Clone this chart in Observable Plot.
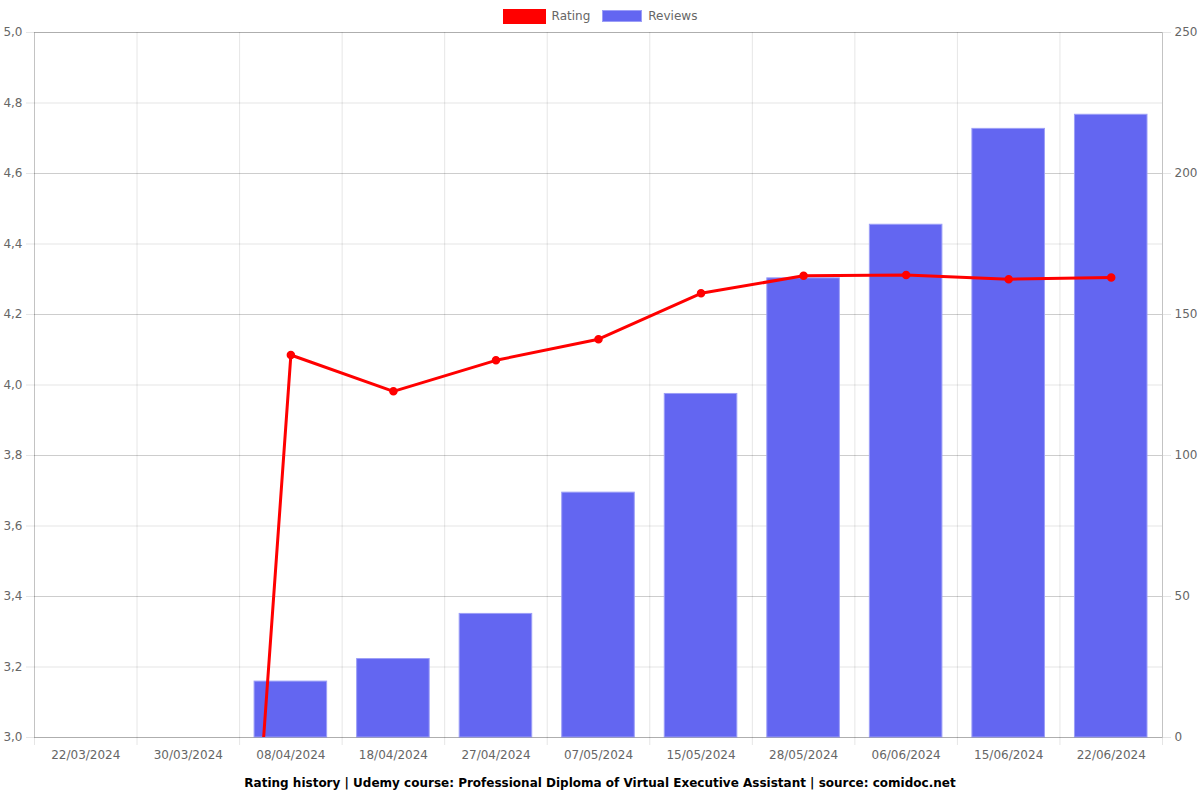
<!DOCTYPE html>
<html>
<head>
<meta charset="utf-8">
<script src="https://cdn.jsdelivr.net/npm/d3@7"></script>
<script src="https://cdn.jsdelivr.net/npm/@observablehq/plot@0.6"></script>
<style>
  html, body { margin: 0; padding: 0; background: #fff; }
  body { width: 1200px; height: 800px; overflow: hidden; font-family: "DejaVu Sans", sans-serif; }
  #legend { height: 24px; display: flex; justify-content: center; align-items: center; font-size: 12px; color: #666; padding-top: 8px; box-sizing: border-box; }
  .item { display: flex; align-items: center; margin: 0 6px; }
  .sw { display: inline-block; margin-right: 6px; box-sizing: border-box; }
  #caption { height: 28px; line-height: 28px; text-align: center; font-size: 12px; font-weight: bold; color: #000; }
  #chart svg { display: block; overflow: visible; }
</style>
</head>
<body>
<div id="legend">
  <div class="item"><span class="sw" style="width:43px;height:15px;background:#ff0000;"></span><span>Rating</span></div>
  <div class="item"><span class="sw" style="width:40px;height:12px;background:#6366f1;border:1px solid #9c9ef7;"></span><span>Reviews</span></div>
</div>
<div id="chart"></div>
<div id="caption">Rating history | Udemy course: Professional Diploma of Virtual Executive Assistant | source: comidoc.net</div>
<script>
const dates = ["22/03/2024","30/03/2024","08/04/2024","18/04/2024","27/04/2024","07/05/2024","15/05/2024","28/05/2024","06/06/2024","15/06/2024","22/06/2024"];
const ratings = [0, 0, 4.085, 3.982, 4.07, 4.13, 4.26, 4.31, 4.312, 4.30, 4.305];
const reviews = [0, 0, 20, 28, 44, 87, 122, 163, 182, 216, 221];
const ratingTicks = [3.0, 3.2, 3.4, 3.6, 3.8, 4.0, 4.2, 4.4, 4.6, 4.8, 5.0];
const reviewTicks = [0, 50, 100, 150, 200, 250];

const yMin = 3, yMax = 5, rMax = 250;
const toY = r => yMin + r * (yMax - yMin) / rMax;
const fromY = y => Math.round((y - yMin) * rMax / (yMax - yMin));

const data = dates.map((d, i) => ({date: d, rating: ratings[i], reviews: reviews[i]}));

const W = 1200, H = 745, ML = 34, MR = 38, MT = 8, MB = 32;
const step = (W - ML - MR) / dates.length;
const grid = {stroke: "#000", strokeOpacity: 0.1};

const chart = Plot.plot({
  width: W, height: H,
  marginLeft: ML, marginRight: MR, marginTop: MT, marginBottom: MB,
  style: {fontFamily: "DejaVu Sans, sans-serif", fontSize: "12px", color: "#666", background: "#fff", overflow: "visible"},
  x: {type: "band", domain: dates, padding: 0, round: false, label: null},
  y: {domain: [yMin, yMax], label: null},
  marks: [
    Plot.ruleY(ratingTicks, {...grid}),
    Plot.ruleY(reviewTicks.map(toY), {...grid}),
    Plot.ruleX(dates, {x: d => d, dx: -step / 2, insetBottom: -8, ...grid}),
    Plot.ruleX([dates[dates.length - 1]], {x: d => d, dx: step / 2, insetBottom: -8, ...grid}),
    Plot.barY(data.filter(d => d.reviews > 0), {
      x: "date", y1: yMin, y2: d => toY(d.reviews),
      fill: "#6366f1", stroke: "#9c9ef7", strokeWidth: 1,
      insetLeft: 15, insetRight: 15, insetTop: 0.5
    }),
    Plot.frame({stroke: "#000", strokeOpacity: 0.15}),
    Plot.axisY(ratingTicks, {anchor: "left", tickSize: 8, tickPadding: 4, stroke: "#000", strokeOpacity: 0.1, fill: "#666",
      tickFormat: d => d.toFixed(1).replace(".", ","), label: null}),
    Plot.axisY(reviewTicks.map(toY), {anchor: "right", tickSize: 8, tickPadding: 4, stroke: "#000", strokeOpacity: 0.1, fill: "#666",
      tickFormat: d => String(fromY(d)), label: null}),
    Plot.axisX({tickSize: 0, tickPadding: 13, fill: "#666", label: null}),
    Plot.line(data, {x: "date", y: "rating", stroke: "#ff0000", strokeWidth: 3, clip: true}),
    Plot.dot(data, {x: "date", y: "rating", r: 3.5, fill: "#ff0000", stroke: "#ff0000", clip: true})
  ]
});
document.getElementById("chart").appendChild(chart);
</script>
</body>
</html>
